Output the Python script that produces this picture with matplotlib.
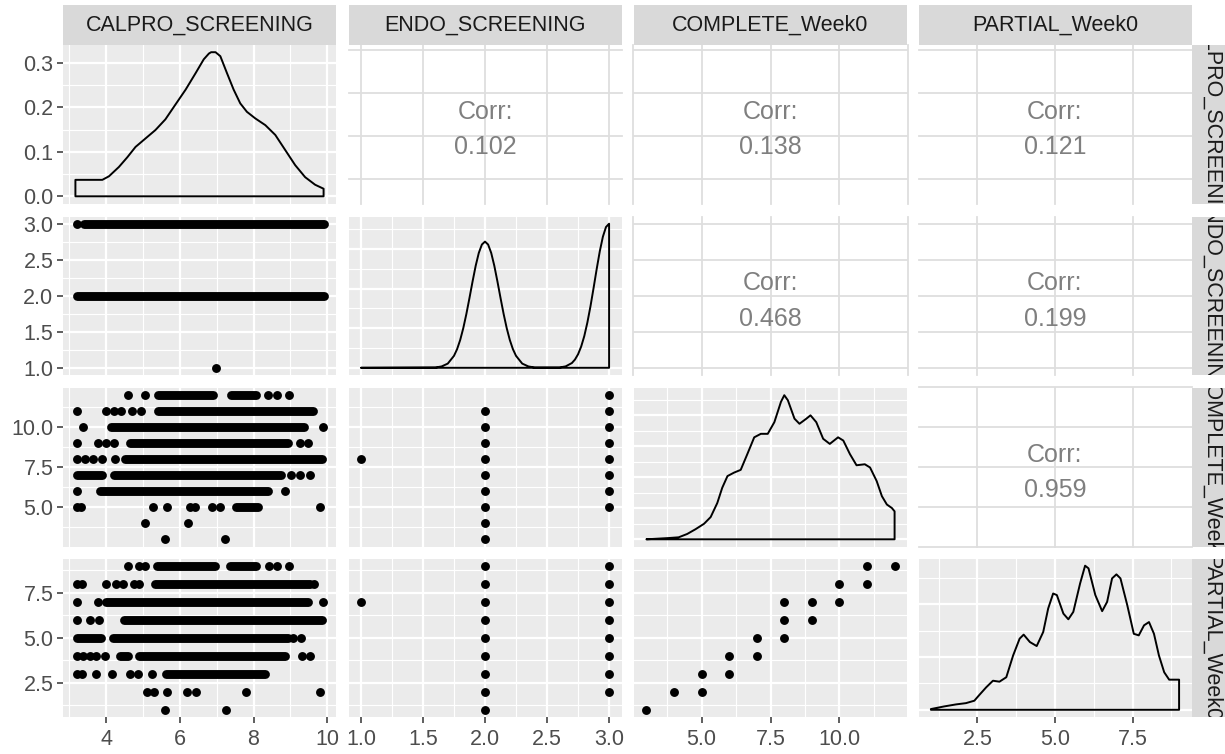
import matplotlib.pyplot as plt

plt.rcParams['font.family'] = ['Liberation Sans', 'DejaVu Sans']

W, H = 1225, 754

names = ['CALPRO_SCREENING', 'ENDO_SCREENING', 'COMPLETE_Week0', 'PARTIAL_Week0']

# data range (min, max) of each variable
ranges = [(3.17, 9.9), (1.0, 3.0), (3.0, 12.0), (1.0, 9.0)]

major_breaks = [[4, 6, 8, 10], [1.0, 1.5, 2.0, 2.5, 3.0], [5.0, 7.5, 10.0], [2.5, 5.0, 7.5]]
minor_breaks = [[3, 5, 7, 9], [1.25, 1.75, 2.25, 2.75], [3.75, 6.25, 8.75, 11.25], [1.25, 3.75, 6.25, 8.75]]
break_labels = [['4', '6', '8', '10'], ['1.0', '1.5', '2.0', '2.5', '3.0'],
                ['5.0', '7.5', '10.0'], ['2.5', '5.0', '7.5']]
cor_breaks = [[4, 6, 8, 10], [1.0, 1.5, 2.0, 2.5, 3.0], [2.5, 5.0, 7.5, 10.0, 12.5], [2.5, 5.0, 7.5]]

corr_values = {(0, 1): '0.102', (0, 2): '0.138', (0, 3): '0.121',
               (1, 2): '0.468', (1, 3): '0.199', (2, 3): '0.959'}

# diagonal densities
calpro_dx = [3.17, 3.9, 4.08, 4.35, 4.58, 4.8, 5.07, 5.34, 5.61, 5.88, 6.16, 6.43, 6.65, 6.79, 6.85,
             6.97, 7.1, 7.28, 7.46, 7.64, 7.82, 8.05, 8.32, 8.59, 8.86, 9.13, 9.4, 9.67, 9.9]
calpro_dy = [0.037, 0.037, 0.045, 0.066, 0.088, 0.111, 0.130, 0.149, 0.173, 0.206, 0.240, 0.277, 0.308, 0.321, 0.324,
             0.324, 0.315, 0.277, 0.240, 0.209, 0.190, 0.175, 0.160, 0.138, 0.104, 0.070, 0.043, 0.026, 0.017]

endo_dx = [1.0, 1.6, 1.65, 1.7, 1.75, 1.775, 1.8, 1.825, 1.85, 1.875, 1.9, 1.925, 1.95, 1.975, 2.0,
           2.025, 2.05, 2.075, 2.1, 2.125, 2.15, 2.175, 2.2, 2.225, 2.25, 2.3, 2.35, 2.4,
           2.6, 2.65, 2.7, 2.725, 2.75, 2.775, 2.8, 2.825, 2.85, 2.875, 2.9, 2.925, 2.95, 2.975, 3.0]
endo_dy = [0.0, 0.004, 0.017, 0.053, 0.151, 0.235, 0.351, 0.501, 0.681, 0.883, 1.092, 1.289, 1.451, 1.557, 1.594,
           1.557, 1.451, 1.289, 1.092, 0.883, 0.681, 0.501, 0.351, 0.235, 0.151, 0.053, 0.017, 0.004,
           0.004, 0.018, 0.060, 0.104, 0.171, 0.268, 0.400, 0.572, 0.777, 1.008, 1.247, 1.471, 1.656, 1.778, 1.82]

complete_dx = [3.0, 3.8, 4.17, 4.48, 4.78, 5.09, 5.33, 5.57, 5.75, 5.94, 6.18, 6.42, 6.66, 6.91, 7.15,
               7.4, 7.64, 7.88, 8.0, 8.13, 8.37, 8.55, 8.8, 8.95, 9.16, 9.41, 9.65, 9.95, 10.14,
               10.38, 10.62, 10.92, 11.11, 11.35, 11.54, 11.72, 11.9, 12.0]
complete_dy = [0.0, 0.001, 0.0016, 0.0043, 0.0081, 0.0125, 0.0179, 0.0292, 0.0415, 0.0509, 0.0537, 0.0559,
               0.0686, 0.0821, 0.0849, 0.0849, 0.0943, 0.1107, 0.116, 0.1119, 0.0971, 0.0930, 0.0971,
               0.0998, 0.0943, 0.0809, 0.0768, 0.0821, 0.0795, 0.0686, 0.0596, 0.0604, 0.0578, 0.0469,
               0.0347, 0.0280, 0.0252, 0.0225]

partial_dx = [1.0, 1.43, 1.81, 2.13, 2.4, 2.56, 2.78, 3.0, 3.21, 3.43, 3.65, 3.86, 3.99, 4.19, 4.41,
              4.62, 4.78, 4.94, 5.06, 5.27, 5.43, 5.59, 5.81, 5.97, 6.08, 6.3, 6.52, 6.68, 6.84, 6.98,
              7.11, 7.33, 7.54, 7.7, 7.87, 8.03, 8.19, 8.35, 8.52, 8.68, 9.0]
partial_dy = [0.0007, 0.0032, 0.0051, 0.0063, 0.0086, 0.0140, 0.0212, 0.0275, 0.0266, 0.0308, 0.0514,
              0.0673, 0.0711, 0.0641, 0.0603, 0.0736, 0.0958, 0.1100, 0.1085, 0.0910, 0.0856, 0.0926,
              0.1196, 0.1363, 0.1338, 0.1085, 0.0933, 0.1021, 0.1243, 0.1281, 0.1243, 0.0989, 0.0719,
              0.0704, 0.0799, 0.0830, 0.0719, 0.0514, 0.0355, 0.0285, 0.0285]

dens = [(calpro_dx, calpro_dy), (endo_dx, endo_dy), (complete_dx, complete_dy), (partial_dx, partial_dy)]
dens_major = [[0.0, 0.1, 0.2, 0.3], [0.0, 0.5, 1.0, 1.5], [0.0, 0.025, 0.05, 0.075, 0.1], [0.0, 0.05, 0.1]]
dens_minor = [[0.05, 0.15, 0.25], [0.25, 0.75, 1.25, 1.75], [0.0125, 0.0375, 0.0625, 0.0875, 0.1125],
              [0.025, 0.075, 0.125]]
dens_labels = ['0.0', '0.1', '0.2', '0.3']

# CALPRO (x) against the discrete variables: (level, single points, dense runs of points)
calpro_vs_endo = [
    (3, [3.20], [(3.40, 9.90)]),
    (2, [], [(3.20, 9.90)]),
    (1, [6.97], []),
]
calpro_vs_complete = [
    (12, [4.60, 5.07, 8.39, 8.63, 8.95], [(5.41, 6.90), (7.39, 8.07)]),
    (11, [3.20, 3.99, 4.22, 4.40, 4.71, 4.94], [(5.40, 9.60)]),
    (10, [3.38, 9.89], [(4.14, 9.38)]),
    (9, [3.20, 3.77, 3.99, 4.22, 9.26, 9.47], [(4.64, 8.93)]),
    (8, [3.20, 3.43, 3.65, 3.90, 4.24], [(4.51, 9.87)]),
    (7, [9.02, 9.26, 9.53], [(3.20, 3.88), (4.22, 8.75)]),
    (6, [3.20, 8.84], [(3.83, 8.39)]),
    (5, [3.20, 3.32, 5.27, 5.66, 6.29, 6.42, 6.87, 7.10, 9.80], [(7.52, 8.12)]),
    (4, [5.07, 6.23], []),
    (3, [5.61, 7.23], []),
]
calpro_vs_partial = [
    (9, [4.60, 4.89, 5.07, 8.41, 8.63, 8.95], [(5.38, 6.95), (7.37, 8.07)]),
    (8, [3.20, 3.36, 4.01, 4.26, 4.46, 4.76, 4.89, 9.65], [(5.32, 9.53)]),
    (7, [3.20, 3.77, 9.89], [(4.01, 9.47)]),
    (6, [3.20, 3.56, 3.81], [(4.50, 9.87)]),
    (5, [9.08, 9.28], [(3.20, 3.86), (4.19, 8.93)]),
    (4, [3.20, 3.38, 3.56, 3.72, 3.97, 9.32, 9.53], [(4.37, 4.60), (4.89, 8.84)]),
    (3, [3.20, 3.36, 3.72, 4.15, 4.64, 4.87, 5.25], [(5.63, 8.30)]),
    (2, [5.10, 5.30, 5.66, 6.20, 6.44, 7.79, 9.80], []),
    (1, [5.61, 7.25], []),
]
calpro_rows = {1: calpro_vs_endo, 2: calpro_vs_complete, 3: calpro_vs_partial}

endo_c = [1, 2, 2, 2, 2, 2, 2, 2, 2, 2, 3, 3, 3, 3, 3, 3, 3, 3]
complete_e = [8, 3, 4, 5, 6, 7, 8, 9, 10, 11, 5, 6, 7, 8, 9, 10, 11, 12]
endo_p = [1, 2, 2, 2, 2, 2, 2, 2, 2, 2, 3, 3, 3, 3, 3, 3, 3, 3]
partial_e = [7, 1, 2, 3, 4, 5, 6, 7, 8, 9, 2, 3, 4, 5, 6, 7, 8, 9]
complete_p = [3, 4, 5, 5, 6, 6, 7, 7, 8, 8, 8, 9, 9, 10, 10, 11, 11, 12]
partial_c = [1, 2, 2, 3, 3, 4, 4, 5, 5, 6, 7, 6, 7, 7, 8, 8, 9, 9]
pairs = {(2, 1): (endo_c, complete_e), (3, 1): (endo_p, partial_e), (3, 2): (complete_p, partial_c)}

fig = plt.figure(figsize=(W / 100, H / 100), dpi=100)

col_left = [63, 348.5, 634, 918.5]
row_top = [45, 216.5, 388, 558.5]
pw, ph = 273, 158.5
pt_size = 6.4


def add_px(l, t, w, h):
    return fig.add_axes([l / W, 1 - (t + h) / H, w / W, h / H])


def lim(i):
    lo, hi = ranges[i]
    pad = (hi - lo) * 0.05
    return lo - pad, hi + pad


for r in range(4):
    for c in range(4):
        ax = add_px(col_left[c], row_top[r], pw, ph)
        for s in ax.spines.values():
            s.set_visible(False)
        ax.set_xlim(lim(c))

        if c > r:
            # correlation panel
            ax.set_facecolor('white')
            ax.set_ylim(lim(r))
            ax.set_xticks([])
            ax.set_yticks([])
            for b in cor_breaks[c]:
                ax.axvline(b, color='#DEDEDE', lw=1.3, clip_on=False, zorder=0)
            for b in cor_breaks[r]:
                ax.axhline(b, color='#DEDEDE', lw=1.3, clip_on=False, zorder=0)
            ax.text(0.5, 0.58, 'Corr:', transform=ax.transAxes, ha='center', va='center',
                    fontsize=18, color='#7F7F7F')
            ax.text(0.5, 0.355, corr_values[(r, c)], transform=ax.transAxes, ha='center',
                    va='center', fontsize=18, color='#7F7F7F')
            continue

        ax.set_facecolor('#EBEBEB')
        ax.set_xticks(major_breaks[c])
        ax.set_xticks(minor_breaks[c], minor=True)

        if r == c:
            dx, dy = dens[r]
            m = max(dy)
            ax.set_ylim(-0.05 * m, 1.05 * m)
            ax.set_yticks(dens_major[r])
            ax.set_yticks(dens_minor[r], minor=True)
            ax.fill([dx[0]] + dx + [dx[-1]], [0] + dy + [0], facecolor='none',
                    edgecolor='black', lw=1.4, joinstyle='round')
        else:
            ax.set_ylim(lim(r))
            ax.set_yticks(major_breaks[r])
            ax.set_yticks(minor_breaks[r], minor=True)
            if c == 0:
                for level, pts, runs in calpro_rows[r]:
                    ax.plot(pts, [level] * len(pts), 'o', color='black', ms=pt_size, mew=0)
                    for a, b in runs:
                        ax.plot([a, b], [level, level], color='black', lw=pt_size,
                                solid_capstyle='round')
            else:
                xs, ys = pairs[(r, c)]
                ax.plot(xs, ys, 'o', color='black', ms=pt_size, mew=0)

        ax.grid(True, which='major', color='white', lw=1.6)
        ax.grid(True, which='minor', color='white', lw=0.8)
        ax.set_axisbelow(True)
        ax.tick_params(which='minor', length=0)
        ax.tick_params(which='major', length=4, width=1.1, color='#333333',
                       labelsize=15.5, labelcolor='#4D4D4D')
        ax.tick_params(axis='y', pad=3)
        ax.tick_params(axis='x', pad=4.5)

        if c == 0:
            ax.set_yticklabels(dens_labels if r == 0 else break_labels[r])
        else:
            ax.tick_params(axis='y', left=False, labelleft=False)
        if r == 3:
            ax.set_xticklabels(break_labels[c])
        else:
            ax.tick_params(axis='x', bottom=False, labelbottom=False)

# strips
for c in range(4):
    sax = add_px(col_left[c], 5, pw, 40)
    sax.set_facecolor('#D9D9D9')
    sax.set_xticks([])
    sax.set_yticks([])
    for s in sax.spines.values():
        s.set_visible(False)
    sax.text(0.5, 0.5, names[c], transform=sax.transAxes, ha='center', va='center',
             fontsize=15.5, color='#1A1A1A')

for r in range(4):
    rax = add_px(1191.5, row_top[r], 40, ph)
    rax.set_facecolor('#D9D9D9')
    rax.set_xticks([])
    rax.set_yticks([])
    for s in rax.spines.values():
        s.set_visible(False)
    rax.text(0.5, 0.5, names[r], transform=rax.transAxes, ha='center', va='center',
             rotation=270, fontsize=15.5, color='#1A1A1A', clip_on=True)

fig.savefig('out.png', dpi=100, facecolor='white')
